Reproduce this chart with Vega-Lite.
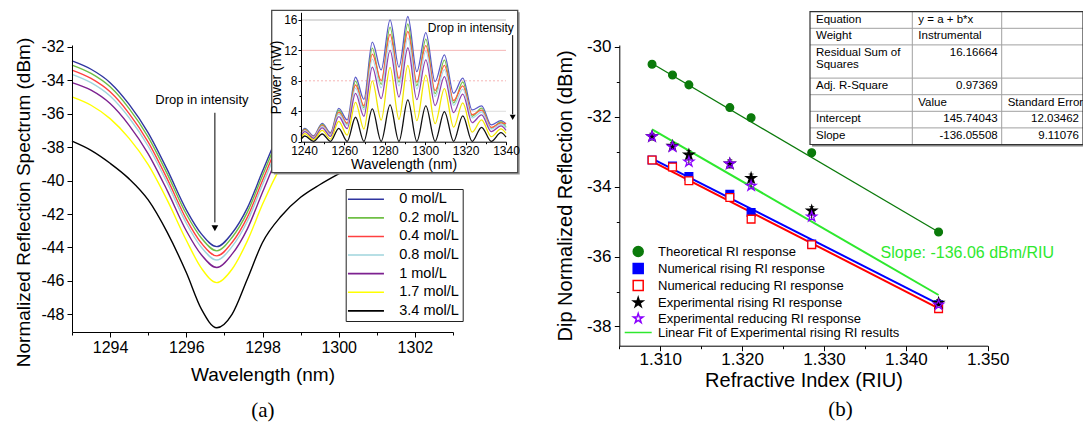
{
"$schema":"https://vega.github.io/schema/vega-lite/v6.json",
"width":1083,"height":424,"padding":0,"autosize":"none","background":"white",
"config":{"view":{"stroke":null},"font":"Liberation Sans",
 "axis":{"domainColor":"black","tickColor":"black","labelColor":"black","titleColor":"black","labelFont":"Liberation Sans","titleFont":"Liberation Sans","titleFontWeight":"normal","grid":false,"labelFlush":false,"labelOverlap":false,"labelBound":false,"domainWidth":1,"tickWidth":1},
 "text":{"font":"Liberation Sans","color":"black"}},
"datasets":{
"mc":[
{"c":"0 mol/L","w":1293,"v":-32.85},{"c":"0 mol/L","w":1293.5,"v":-33.35},{"c":"0 mol/L","w":1294,"v":-34.15},{"c":"0 mol/L","w":1294.5,"v":-35.45},{"c":"0 mol/L","w":1295,"v":-37.15},{"c":"0 mol/L","w":1295.5,"v":-39.35},{"c":"0 mol/L","w":1296,"v":-41.75},{"c":"0 mol/L","w":1296.4,"v":-43.2},{"c":"0 mol/L","w":1296.8,"v":-43.95},{"c":"0 mol/L","w":1297.2,"v":-43.15},{"c":"0 mol/L","w":1297.6,"v":-41.65},{"c":"0 mol/L","w":1298,"v":-39.45},{"c":"0 mol/L","w":1298.5,"v":-36.75},{"c":"0 mol/L","w":1299,"v":-34.35},
{"c":"0.2 mol/L","w":1293,"v":-33.1},{"c":"0.2 mol/L","w":1293.5,"v":-33.6},{"c":"0.2 mol/L","w":1294,"v":-34.4},{"c":"0.2 mol/L","w":1294.5,"v":-35.7},{"c":"0.2 mol/L","w":1295,"v":-37.4},{"c":"0.2 mol/L","w":1295.5,"v":-39.6},{"c":"0.2 mol/L","w":1296,"v":-42.0},{"c":"0.2 mol/L","w":1296.4,"v":-43.45},{"c":"0.2 mol/L","w":1296.8,"v":-44.2},{"c":"0.2 mol/L","w":1297.2,"v":-43.4},{"c":"0.2 mol/L","w":1297.6,"v":-41.9},{"c":"0.2 mol/L","w":1298,"v":-39.7},{"c":"0.2 mol/L","w":1298.5,"v":-37.0},{"c":"0.2 mol/L","w":1299,"v":-34.6},
{"c":"0.4 mol/L","w":1293,"v":-33.4},{"c":"0.4 mol/L","w":1293.5,"v":-33.9},{"c":"0.4 mol/L","w":1294,"v":-34.7},{"c":"0.4 mol/L","w":1294.5,"v":-36.0},{"c":"0.4 mol/L","w":1295,"v":-37.7},{"c":"0.4 mol/L","w":1295.5,"v":-39.9},{"c":"0.4 mol/L","w":1296,"v":-42.3},{"c":"0.4 mol/L","w":1296.4,"v":-43.75},{"c":"0.4 mol/L","w":1296.8,"v":-44.5},{"c":"0.4 mol/L","w":1297.2,"v":-43.7},{"c":"0.4 mol/L","w":1297.6,"v":-42.2},{"c":"0.4 mol/L","w":1298,"v":-40.0},{"c":"0.4 mol/L","w":1298.5,"v":-37.3},{"c":"0.4 mol/L","w":1299,"v":-34.9},
{"c":"0.8 mol/L","w":1293,"v":-33.65},{"c":"0.8 mol/L","w":1293.5,"v":-34.15},{"c":"0.8 mol/L","w":1294,"v":-34.95},{"c":"0.8 mol/L","w":1294.5,"v":-36.25},{"c":"0.8 mol/L","w":1295,"v":-37.95},{"c":"0.8 mol/L","w":1295.5,"v":-40.15},{"c":"0.8 mol/L","w":1296,"v":-42.55},{"c":"0.8 mol/L","w":1296.4,"v":-44.0},{"c":"0.8 mol/L","w":1296.8,"v":-44.75},{"c":"0.8 mol/L","w":1297.2,"v":-43.95},{"c":"0.8 mol/L","w":1297.6,"v":-42.45},{"c":"0.8 mol/L","w":1298,"v":-40.25},{"c":"0.8 mol/L","w":1298.5,"v":-37.55},{"c":"0.8 mol/L","w":1299,"v":-35.15},
{"c":"1 mol/L","w":1293,"v":-34.15},{"c":"1 mol/L","w":1293.5,"v":-34.6},{"c":"1 mol/L","w":1294,"v":-35.4},{"c":"1 mol/L","w":1294.5,"v":-36.7},{"c":"1 mol/L","w":1295,"v":-38.4},{"c":"1 mol/L","w":1295.5,"v":-40.6},{"c":"1 mol/L","w":1296,"v":-43.0},{"c":"1 mol/L","w":1296.4,"v":-44.45},{"c":"1 mol/L","w":1296.8,"v":-45.2},{"c":"1 mol/L","w":1297.2,"v":-44.4},{"c":"1 mol/L","w":1297.6,"v":-42.9},{"c":"1 mol/L","w":1298,"v":-40.7},{"c":"1 mol/L","w":1298.5,"v":-38.0},{"c":"1 mol/L","w":1299,"v":-35.6},
{"c":"1.7 mol/L","w":1293,"v":-35.0},{"c":"1.7 mol/L","w":1293.5,"v":-35.5},{"c":"1.7 mol/L","w":1294,"v":-36.3},{"c":"1.7 mol/L","w":1294.5,"v":-37.48},{"c":"1.7 mol/L","w":1295,"v":-39.05},{"c":"1.7 mol/L","w":1295.5,"v":-41.17},{"c":"1.7 mol/L","w":1296,"v":-43.57},{"c":"1.7 mol/L","w":1296.4,"v":-45.25},{"c":"1.7 mol/L","w":1296.8,"v":-46.1},{"c":"1.7 mol/L","w":1297.2,"v":-45.3},{"c":"1.7 mol/L","w":1297.6,"v":-43.62},{"c":"1.7 mol/L","w":1298,"v":-41.42},{"c":"1.7 mol/L","w":1298.5,"v":-39.05},{"c":"1.7 mol/L","w":1299,"v":-37.04},{"c":"1.7 mol/L","w":1299.5,"v":-35.3},
{"c":"3.4 mol/L","w":1293,"v":-37.65},{"c":"3.4 mol/L","w":1293.5,"v":-38.2},{"c":"3.4 mol/L","w":1294,"v":-38.97},{"c":"3.4 mol/L","w":1294.5,"v":-39.9},{"c":"3.4 mol/L","w":1295,"v":-41.16},{"c":"3.4 mol/L","w":1295.5,"v":-43.1},{"c":"3.4 mol/L","w":1296,"v":-45.5},{"c":"3.4 mol/L","w":1296.4,"v":-47.7},{"c":"3.4 mol/L","w":1296.8,"v":-48.8},{"c":"3.4 mol/L","w":1297.2,"v":-48.0},{"c":"3.4 mol/L","w":1297.6,"v":-45.9},{"c":"3.4 mol/L","w":1298,"v":-43.7},{"c":"3.4 mol/L","w":1298.5,"v":-42.1},{"c":"3.4 mol/L","w":1299,"v":-41.0},{"c":"3.4 mol/L","w":1299.5,"v":-40.25},{"c":"3.4 mol/L","w":1300,"v":-39.6},{"c":"3.4 mol/L","w":1300.5,"v":-39.0}
],
"ins":[
{"c":"0 mol/L","w":1238.5,"p":1.1},{"c":"0 mol/L","w":1240.4,"p":1.76},{"c":"0 mol/L","w":1244.7,"p":0.75},{"c":"0 mol/L","w":1249,"p":2.42},{"c":"0 mol/L","w":1253.1,"p":1.18},{"c":"0 mol/L","w":1257.2,"p":4.39},{"c":"0 mol/L","w":1261.35,"p":2.86},{"c":"0 mol/L","w":1265.5,"p":8.47},{"c":"0 mol/L","w":1269.65,"p":5.57},{"c":"0 mol/L","w":1273.8,"p":13.08},{"c":"0 mol/L","w":1278.2,"p":9.43},{"c":"0 mol/L","w":1282.6,"p":16.01},{"c":"0 mol/L","w":1287,"p":9.79},{"c":"0 mol/L","w":1291.4,"p":16.45},{"c":"0 mol/L","w":1295.85,"p":9.2},{"c":"0 mol/L","w":1300.3,"p":14.34},{"c":"0 mol/L","w":1304.9,"p":7.9},{"c":"0 mol/L","w":1309.5,"p":11.41},{"c":"0 mol/L","w":1314.05,"p":6.37},{"c":"0 mol/L","w":1318.6,"p":8.34},{"c":"0 mol/L","w":1323.25,"p":4.17},{"c":"0 mol/L","w":1327.9,"p":4.7},{"c":"0 mol/L","w":1332.7,"p":2.2},{"c":"0 mol/L","w":1337.5,"p":2.76},{"c":"0 mol/L","w":1340,"p":2.3},
{"c":"0.2 mol/L","w":1238.5,"p":0.9},{"c":"0.2 mol/L","w":1240.4,"p":1.65},{"c":"0.2 mol/L","w":1244.7,"p":0.6},{"c":"0.2 mol/L","w":1249,"p":2.27},{"c":"0.2 mol/L","w":1253.1,"p":0.94},{"c":"0.2 mol/L","w":1257.2,"p":4.13},{"c":"0.2 mol/L","w":1261.35,"p":2.29},{"c":"0.2 mol/L","w":1265.5,"p":7.96},{"c":"0.2 mol/L","w":1269.65,"p":4.46},{"c":"0.2 mol/L","w":1273.8,"p":12.3},{"c":"0.2 mol/L","w":1278.2,"p":7.54},{"c":"0.2 mol/L","w":1282.6,"p":15.05},{"c":"0.2 mol/L","w":1287,"p":7.83},{"c":"0.2 mol/L","w":1291.4,"p":15.46},{"c":"0.2 mol/L","w":1295.85,"p":7.36},{"c":"0.2 mol/L","w":1300.3,"p":13.48},{"c":"0.2 mol/L","w":1304.9,"p":6.32},{"c":"0.2 mol/L","w":1309.5,"p":10.73},{"c":"0.2 mol/L","w":1314.05,"p":5.1},{"c":"0.2 mol/L","w":1318.6,"p":7.84},{"c":"0.2 mol/L","w":1323.25,"p":3.34},{"c":"0.2 mol/L","w":1327.9,"p":4.42},{"c":"0.2 mol/L","w":1332.7,"p":1.76},{"c":"0.2 mol/L","w":1337.5,"p":2.59},{"c":"0.2 mol/L","w":1340,"p":1.9},
{"c":"0.4 mol/L","w":1238.5,"p":0.95},{"c":"0.4 mol/L","w":1240.4,"p":1.55},{"c":"0.4 mol/L","w":1244.7,"p":0.64},{"c":"0.4 mol/L","w":1249,"p":2.13},{"c":"0.4 mol/L","w":1253.1,"p":1.0},{"c":"0.4 mol/L","w":1257.2,"p":3.86},{"c":"0.4 mol/L","w":1261.35,"p":2.43},{"c":"0.4 mol/L","w":1265.5,"p":7.45},{"c":"0.4 mol/L","w":1269.65,"p":4.73},{"c":"0.4 mol/L","w":1273.8,"p":11.51},{"c":"0.4 mol/L","w":1278.2,"p":8.02},{"c":"0.4 mol/L","w":1282.6,"p":14.09},{"c":"0.4 mol/L","w":1287,"p":8.32},{"c":"0.4 mol/L","w":1291.4,"p":14.48},{"c":"0.4 mol/L","w":1295.85,"p":7.82},{"c":"0.4 mol/L","w":1300.3,"p":12.62},{"c":"0.4 mol/L","w":1304.9,"p":6.72},{"c":"0.4 mol/L","w":1309.5,"p":10.04},{"c":"0.4 mol/L","w":1314.05,"p":5.41},{"c":"0.4 mol/L","w":1318.6,"p":7.34},{"c":"0.4 mol/L","w":1323.25,"p":3.54},{"c":"0.4 mol/L","w":1327.9,"p":4.14},{"c":"0.4 mol/L","w":1332.7,"p":1.87},{"c":"0.4 mol/L","w":1337.5,"p":2.43},{"c":"0.4 mol/L","w":1340,"p":2.4},
{"c":"0.8 mol/L","w":1238.5,"p":0.8},{"c":"0.8 mol/L","w":1240.4,"p":1.46},{"c":"0.8 mol/L","w":1244.7,"p":0.56},{"c":"0.8 mol/L","w":1249,"p":2.01},{"c":"0.8 mol/L","w":1253.1,"p":0.89},{"c":"0.8 mol/L","w":1257.2,"p":3.64},{"c":"0.8 mol/L","w":1261.35,"p":2.15},{"c":"0.8 mol/L","w":1265.5,"p":7.03},{"c":"0.8 mol/L","w":1269.65,"p":4.18},{"c":"0.8 mol/L","w":1273.8,"p":10.86},{"c":"0.8 mol/L","w":1278.2,"p":7.07},{"c":"0.8 mol/L","w":1282.6,"p":13.29},{"c":"0.8 mol/L","w":1287,"p":7.34},{"c":"0.8 mol/L","w":1291.4,"p":13.65},{"c":"0.8 mol/L","w":1295.85,"p":6.9},{"c":"0.8 mol/L","w":1300.3,"p":11.9},{"c":"0.8 mol/L","w":1304.9,"p":5.93},{"c":"0.8 mol/L","w":1309.5,"p":9.47},{"c":"0.8 mol/L","w":1314.05,"p":4.78},{"c":"0.8 mol/L","w":1318.6,"p":6.92},{"c":"0.8 mol/L","w":1323.25,"p":3.13},{"c":"0.8 mol/L","w":1327.9,"p":3.9},{"c":"0.8 mol/L","w":1332.7,"p":1.65},{"c":"0.8 mol/L","w":1337.5,"p":2.29},{"c":"0.8 mol/L","w":1340,"p":1.8},
{"c":"1 mol/L","w":1238.5,"p":0.7},{"c":"1 mol/L","w":1240.4,"p":1.32},{"c":"1 mol/L","w":1244.7,"p":0.45},{"c":"1 mol/L","w":1249,"p":1.82},{"c":"1 mol/L","w":1253.1,"p":0.71},{"c":"1 mol/L","w":1257.2,"p":3.29},{"c":"1 mol/L","w":1261.35,"p":1.72},{"c":"1 mol/L","w":1265.5,"p":6.35},{"c":"1 mol/L","w":1269.65,"p":3.34},{"c":"1 mol/L","w":1273.8,"p":9.81},{"c":"1 mol/L","w":1278.2,"p":5.66},{"c":"1 mol/L","w":1282.6,"p":12.01},{"c":"1 mol/L","w":1287,"p":5.87},{"c":"1 mol/L","w":1291.4,"p":12.34},{"c":"1 mol/L","w":1295.85,"p":5.52},{"c":"1 mol/L","w":1300.3,"p":10.76},{"c":"1 mol/L","w":1304.9,"p":4.74},{"c":"1 mol/L","w":1309.5,"p":8.56},{"c":"1 mol/L","w":1314.05,"p":3.82},{"c":"1 mol/L","w":1318.6,"p":6.26},{"c":"1 mol/L","w":1323.25,"p":2.5},{"c":"1 mol/L","w":1327.9,"p":3.53},{"c":"1 mol/L","w":1332.7,"p":1.32},{"c":"1 mol/L","w":1337.5,"p":2.07},{"c":"1 mol/L","w":1340,"p":1.5},
{"c":"1.7 mol/L","w":1238.5,"p":0.5},{"c":"1.7 mol/L","w":1240.4,"p":1.07},{"c":"1.7 mol/L","w":1244.7,"p":0.23},{"c":"1.7 mol/L","w":1249,"p":1.48},{"c":"1.7 mol/L","w":1253.1,"p":0.35},{"c":"1.7 mol/L","w":1257.2,"p":2.68},{"c":"1.7 mol/L","w":1261.35,"p":0.86},{"c":"1.7 mol/L","w":1265.5,"p":5.17},{"c":"1.7 mol/L","w":1269.65,"p":1.67},{"c":"1.7 mol/L","w":1273.8,"p":7.98},{"c":"1.7 mol/L","w":1278.2,"p":2.83},{"c":"1.7 mol/L","w":1282.6,"p":9.77},{"c":"1.7 mol/L","w":1287,"p":2.94},{"c":"1.7 mol/L","w":1291.4,"p":10.03},{"c":"1.7 mol/L","w":1295.85,"p":2.76},{"c":"1.7 mol/L","w":1300.3,"p":8.75},{"c":"1.7 mol/L","w":1304.9,"p":2.37},{"c":"1.7 mol/L","w":1309.5,"p":6.96},{"c":"1.7 mol/L","w":1314.05,"p":1.91},{"c":"1.7 mol/L","w":1318.6,"p":5.09},{"c":"1.7 mol/L","w":1323.25,"p":1.25},{"c":"1.7 mol/L","w":1327.9,"p":2.87},{"c":"1.7 mol/L","w":1332.7,"p":0.66},{"c":"1.7 mol/L","w":1337.5,"p":1.68},{"c":"1.7 mol/L","w":1340,"p":1.1},
{"c":"3.4 mol/L","w":1238.5,"p":0.3},{"c":"3.4 mol/L","w":1240.4,"p":0.75},{"c":"3.4 mol/L","w":1244.7,"p":0.05},{"c":"3.4 mol/L","w":1249,"p":1.01},{"c":"3.4 mol/L","w":1253.1,"p":0.05},{"c":"3.4 mol/L","w":1257.2,"p":1.76},{"c":"3.4 mol/L","w":1261.35,"p":0.05},{"c":"3.4 mol/L","w":1265.5,"p":3.21},{"c":"3.4 mol/L","w":1269.65,"p":0.05},{"c":"3.4 mol/L","w":1273.8,"p":4.3},{"c":"3.4 mol/L","w":1278.2,"p":0.05},{"c":"3.4 mol/L","w":1282.6,"p":4.83},{"c":"3.4 mol/L","w":1287,"p":0.05},{"c":"3.4 mol/L","w":1291.4,"p":5.49},{"c":"3.4 mol/L","w":1295.85,"p":0.05},{"c":"3.4 mol/L","w":1300.3,"p":4.7},{"c":"3.4 mol/L","w":1304.9,"p":0.05},{"c":"3.4 mol/L","w":1309.5,"p":3.95},{"c":"3.4 mol/L","w":1314.05,"p":0.05},{"c":"3.4 mol/L","w":1318.6,"p":3.38},{"c":"3.4 mol/L","w":1323.25,"p":0.05},{"c":"3.4 mol/L","w":1327.9,"p":1.89},{"c":"3.4 mol/L","w":1332.7,"p":0.05},{"c":"3.4 mol/L","w":1337.5,"p":1.18},{"c":"3.4 mol/L","w":1340,"p":0.6}
],
"rp":[
{"s":"Theoretical RI response","x":1.309,"v":-30.5},{"s":"Theoretical RI response","x":1.3115,"v":-30.81},{"s":"Theoretical RI response","x":1.3135,"v":-31.09},{"s":"Theoretical RI response","x":1.3185,"v":-31.74},{"s":"Theoretical RI response","x":1.3211,"v":-32.03},{"s":"Theoretical RI response","x":1.3285,"v":-33.03},{"s":"Theoretical RI response","x":1.344,"v":-35.3},
{"s":"Numerical rising RI response","x":1.309,"v":-33.24},{"s":"Numerical rising RI response","x":1.3115,"v":-33.41},{"s":"Numerical rising RI response","x":1.3135,"v":-33.71},{"s":"Numerical rising RI response","x":1.3185,"v":-34.22},{"s":"Numerical rising RI response","x":1.3211,"v":-34.74},{"s":"Numerical rising RI response","x":1.3285,"v":-35.64},{"s":"Numerical rising RI response","x":1.344,"v":-37.38},
{"s":"Numerical reducing RI response","x":1.309,"v":-33.24},{"s":"Numerical reducing RI response","x":1.3115,"v":-33.44},{"s":"Numerical reducing RI response","x":1.3135,"v":-33.83},{"s":"Numerical reducing RI response","x":1.3185,"v":-34.31},{"s":"Numerical reducing RI response","x":1.3211,"v":-34.93},{"s":"Numerical reducing RI response","x":1.3285,"v":-35.66},{"s":"Numerical reducing RI response","x":1.344,"v":-37.49},
{"s":"Experimental rising RI response","x":1.309,"v":-32.57,"e":0.1},{"s":"Experimental rising RI response","x":1.3115,"v":-32.84,"e":0.1},{"s":"Experimental rising RI response","x":1.3135,"v":-33.09,"e":0.12},{"s":"Experimental rising RI response","x":1.3185,"v":-33.35,"e":0.08},{"s":"Experimental rising RI response","x":1.3211,"v":-33.76,"e":0.12},{"s":"Experimental rising RI response","x":1.3285,"v":-34.69,"e":0.12},{"s":"Experimental rising RI response","x":1.344,"v":-37.33,"e":0.1},
{"s":"Experimental reducing RI response","x":1.309,"v":-32.57,"e":0.08},{"s":"Experimental reducing RI response","x":1.3115,"v":-32.86,"e":0.08},{"s":"Experimental reducing RI response","x":1.3135,"v":-33.29,"e":0.08},{"s":"Experimental reducing RI response","x":1.3185,"v":-33.35,"e":0.12},{"s":"Experimental reducing RI response","x":1.3211,"v":-33.98,"e":0.08},{"s":"Experimental reducing RI response","x":1.3285,"v":-34.86,"e":0.08},{"s":"Experimental reducing RI response","x":1.344,"v":-37.38,"e":0.08}
],
"rf":[
{"s":"Theoretical RI response","x":1.309,"v":-30.48},{"s":"Theoretical RI response","x":1.344,"v":-35.3},
{"s":"Numerical rising RI response","x":1.309,"v":-33.2},{"s":"Numerical rising RI response","x":1.344,"v":-37.36},
{"s":"Numerical reducing RI response","x":1.309,"v":-33.28},{"s":"Numerical reducing RI response","x":1.344,"v":-37.48},
{"s":"Linear Fit of Experimental rising RI results","x":1.309,"v":-32.36},{"s":"Linear Fit of Experimental rising RI results","x":1.344,"v":-37.1}
],
"th":[{"b":1},{"b":2},{"b":3},{"b":4},{"b":5},{"b":6}],
"tv":[{"b":1},{"b":2}],
"tt":[
{"t":"Equation","c":0,"r":0,"n":false},{"t":"Weight","c":0,"r":1,"n":false},{"t":"Residual Sum of\nSquares","c":0,"r":2,"n":false},{"t":"Adj. R-Square","c":0,"r":3,"n":false},{"t":"Intercept","c":0,"r":5,"n":false},{"t":"Slope","c":0,"r":6,"n":false},
{"t":"y = a + b*x","c":1,"r":0,"n":false},{"t":"Instrumental","c":1,"r":1,"n":false},{"t":"Value","c":1,"r":4,"n":false},{"t":"Standard Error","c":2,"r":4,"n":false},
{"t":"16.16664","c":2,"r":2,"n":true},{"t":"0.97369","c":2,"r":3,"n":true},{"t":"145.74043","c":2,"r":5,"n":true},{"t":"-136.05508","c":2,"r":6,"n":true},{"t":"12.03462","c":3,"r":5,"n":true},{"t":"9.11076","c":3,"r":6,"n":true}
]
},
"layer":[
{"layer":[
 {"data":{"name":"mc"},"mark":{"type":"line","interpolate":"monotone","strokeWidth":1.4},
  "encoding":{
   "x":{"field":"w","type":"quantitative","scale":{"domain":[1293,1303],"range":[72,453],"nice":false,"zero":false},
     "axis":{"orient":"bottom","offset":-92,"zindex":1,"labelOverlap":false,"values":[1293,1294,1295,1296,1297,1298,1299,1300,1301,1302,1303],"labelExpr":"datum.value % 2 == 0 ? '' + datum.value : ''","tickSize":{"condition":{"test":"datum.value % 2 == 0","value":5},"value":3},"title":"Wavelength (nm)","titleFontSize":19,"labelFontSize":16,"labelPadding":2,"titlePadding":10}},
   "y":{"field":"v","type":"quantitative","scale":{"domain":[-49.05,-31.9],"range":[332,45],"nice":false,"zero":false},
     "axis":{"orient":"left","offset":-72,"zindex":1,"labelOverlap":false,"values":[-48,-47,-46,-45,-44,-43,-42,-41,-40,-39,-38,-37,-36,-35,-34,-33,-32],"labelExpr":"datum.value % 2 == 0 ? '' + datum.value : ''","tickSize":{"condition":{"test":"datum.value % 2 == 0","value":5},"value":3},"title":"Normalized Reflection Spectrum (dBm)","titleFontSize":19,"labelFontSize":16,"labelPadding":3,"titlePadding":7,"titleY":202}},
   "color":{"field":"c","type":"nominal","scale":{"domain":["0 mol/L","0.2 mol/L","0.4 mol/L","0.8 mol/L","1 mol/L","1.7 mol/L","3.4 mol/L"],"range":["#2f35a0","#6fbf45","#ff4040","#9fd4dd","#7d2190","#ffff00","#000000"]},
     "legend":{"orient":"none","legendX":345.7,"legendY":189,"title":null,"strokeColor":"#222222","fillColor":"white","padding":3,"symbolType":"M-3,0L3,0","symbolSize":144,"symbolStrokeWidth":1.6,"symbolOffset":10,"labelOffset":26,"labelFontSize":14.5,"labelFont":"Liberation Sans","labelColor":"black","rowPadding":3.6}}
  }},
 {"data":{"values":[{}]},"mark":{"type":"text","text":"Drop in intensity","fontSize":13,"align":"center","baseline":"middle"},"encoding":{"x":{"datum":1296.41},"y":{"datum":-35.2}}},
 {"data":{"values":[{}]},"mark":{"type":"rule","color":"black","strokeWidth":1},"encoding":{"x":{"datum":1296.75},"y":{"datum":-35.95},"y2":{"datum":-42.5}}},
 {"data":{"values":[{}]},"mark":{"type":"point","shape":"triangle-down","filled":true,"color":"black","size":45,"opacity":1},"encoding":{"x":{"datum":1296.75},"y":{"datum":-42.85}}},
 {"data":{"values":[{}]},"mark":{"type":"text","text":"(a)","font":"Liberation Serif","fontSize":21,"align":"center","baseline":"middle"},"encoding":{"x":{"datum":1298.01},"y":{"datum":-53.78}}}
]},
{"layer":[
 {"data":{"values":[{}]},"mark":{"type":"rect","fill":"#9a9a9a"},"encoding":{"x":{"datum":1225},"x2":{"datum":1346.8},"y":{"datum":17.0},"y2":{"datum":-4.3}}},
 {"data":{"values":[{}]},"mark":{"type":"rect","fill":"white","stroke":"#4a4a4a","strokeWidth":1.3},"encoding":{"x":{"datum":1224},"x2":{"datum":1345.8},"y":{"datum":17.26},"y2":{"datum":-4.05}}},
 {"data":{"values":[{}]},"mark":{"type":"rule","color":"#dcdcdc","strokeWidth":2},"encoding":{"y":{"datum":16},"x":{"datum":1238.5},"x2":{"datum":1340}}},
 {"data":{"values":[{}]},"mark":{"type":"rule","color":"#f5b5b5","strokeWidth":1},"encoding":{"y":{"datum":12},"x":{"datum":1238.5},"x2":{"datum":1340}}},
 {"data":{"values":[{}]},"mark":{"type":"rule","color":"#f5b5b5","strokeWidth":1,"strokeDash":[2,2]},"encoding":{"y":{"datum":8},"x":{"datum":1238.5},"x2":{"datum":1340}}},
 {"data":{"values":[{}]},"mark":{"type":"rule","color":"#dcdcdc","strokeWidth":1},"encoding":{"y":{"datum":4},"x":{"datum":1238.5},"x2":{"datum":1340}}},
 {"data":{"name":"ins"},"mark":{"type":"line","interpolate":"monotone","strokeWidth":1.3},
  "encoding":{
   "x":{"field":"w","type":"quantitative","scale":{"domain":[1238.5,1340],"range":[301,506],"nice":false,"zero":false},
     "axis":{"orient":"bottom","offset":-282.3,"zindex":1,"labelOverlap":false,"values":[1240,1250,1260,1270,1280,1290,1300,1310,1320,1330,1340],"labelExpr":"datum.value % 20 == 0 ? '' + datum.value : ''","tickSize":{"condition":{"test":"datum.value % 20 == 0","value":3},"value":2},"title":"Wavelength (nm)","titleFontSize":14,"labelFontSize":12,"labelPadding":1,"titlePadding":1}},
   "y":{"field":"p","type":"quantitative","scale":{"domain":[0,17],"range":[141.7,12.3],"nice":false,"zero":false},
     "axis":{"orient":"left","offset":-301,"zindex":1,"labelOverlap":false,"values":[0,2,4,6,8,10,12,14,16],"labelExpr":"datum.value % 4 == 0 ? '' + datum.value : ''","labelOffset":{"condition":{"test":"datum.value == 0","value":-3},"value":0},"tickSize":{"condition":{"test":"datum.value % 4 == 0","value":3},"value":2},"title":"Power (nW)","titleFontSize":14,"labelFontSize":12,"labelPadding":1,"titlePadding":0}},
   "color":{"field":"c","type":"nominal","scale":{"domain":["0 mol/L","0.2 mol/L","0.4 mol/L","0.8 mol/L","1 mol/L","1.7 mol/L","3.4 mol/L"],"range":["#5b5bc8","#7ac24c","#ff5a3c","#a9dcea","#8e3fae","#f2e600","#111111"]},"legend":null}
  }},
 {"data":{"values":[{}]},"mark":{"type":"rule","color":"black","strokeWidth":1},"encoding":{"x":{"datum":1343.3},"y":{"datum":14.0},"y2":{"datum":3.6}}},
 {"data":{"values":[{}]},"mark":{"type":"point","shape":"triangle-down","filled":true,"color":"black","size":35,"opacity":1},"encoding":{"x":{"datum":1343.3},"y":{"datum":3.2}}},
 {"data":{"values":[{}]},"mark":{"type":"text","text":"Drop in intensity","fontSize":12,"align":"right","baseline":"middle"},"encoding":{"x":{"datum":1343.9},"y":{"datum":14.92}}}
]},
{"layer":[
 {"data":{"name":"rf"},"transform":[{"filter":"datum.s == 'Theoretical RI response'"}],"mark":{"type":"line","strokeWidth":1.3},
  "encoding":{
   "x":{"field":"x","type":"quantitative","scale":{"domain":[1.305,1.35],"range":[619.3,987.7],"nice":false,"zero":false},
     "axis":{"orient":"bottom","offset":-78.3,"zindex":1,"labelOverlap":false,"values":[1.305,1.31,1.315,1.32,1.325,1.33,1.335,1.34,1.345,1.35],"labelExpr":"round(datum.value*1000) % 10 == 0 ? format(datum.value, '.3f') : ''","tickSize":{"condition":{"test":"round(datum.value*1000) % 10 == 0","value":5},"value":3},"title":"Refractive Index (RIU)","titleFontSize":20,"labelFontSize":17,"labelPadding":0.5,"titlePadding":3}},
   "y":{"field":"v","type":"quantitative","scale":{"domain":[-38.55,-29.95],"range":[345.7,45],"nice":false,"zero":false},
     "axis":{"orient":"left","offset":-619.3,"zindex":1,"labelOverlap":false,"values":[-38,-37,-36,-35,-34,-33,-32,-31,-30],"labelExpr":"datum.value % 2 == 0 ? '' + datum.value : ''","tickSize":{"condition":{"test":"datum.value % 2 == 0","value":5},"value":3},"title":"Dip Normalized Reflection (dBm)","titleFontSize":20,"labelFontSize":17,"labelPadding":3.3,"titlePadding":11}},
   "stroke":{"field":"s","type":"nominal","scale":{"domain":["Theoretical RI response","Numerical rising RI response","Numerical reducing RI response","Experimental rising RI response","Experimental reducing RI response","Linear Fit of Experimental rising RI results"],"range":["#0b7a0b","#0000ff","#ff0000","#000000","#8b00ff","#2ee82e"]},
     "legend":{"orient":"none","legendX":631.7,"legendY":245,"title":null,"padding":0,"symbolSize":100,"symbolStrokeWidth":1.5,"labelOffset":13.3,"labelFontSize":13,"labelFont":"Liberation Sans","labelColor":"black","rowPadding":0,"labelLimit":400}}
  }},
 {"data":{"name":"rf"},"transform":[{"filter":"datum.s != 'Theoretical RI response'"}],"mark":{"type":"line","strokeWidth":2},
  "encoding":{"x":{"field":"x","type":"quantitative"},"y":{"field":"v","type":"quantitative"},"stroke":{"field":"s","type":"nominal"}}},
 {"data":{"name":"rp"},"transform":[{"filter":"datum.e > 0"}],"mark":{"type":"errorbar","ticks":true,"color":"black"},
  "encoding":{"x":{"field":"x","type":"quantitative","title":"Refractive Index (RIU)"},"y":{"field":"v","type":"quantitative","title":"Dip Normalized Reflection (dBm)"},"yError":{"field":"e"}}},
 {"data":{"name":"rp"},"transform":[{"filter":"indexof(datum.s, 'Experimental') < 0"}],"mark":{"type":"point","size":60,"strokeWidth":1.3,"opacity":1,"fillOpacity":1},
  "encoding":{"x":{"field":"x","type":"quantitative"},"y":{"field":"v","type":"quantitative"},
   "fill":{"field":"s","type":"nominal","scale":{"domain":["Theoretical RI response","Numerical rising RI response","Numerical reducing RI response","Experimental rising RI response","Experimental reducing RI response","Linear Fit of Experimental rising RI results"],"range":["#0b7a0b","#0000ff","#ffffff","#000000","transparent","transparent"]}},
   "stroke":{"field":"s","type":"nominal"},
   "shape":{"field":"s","type":"nominal","scale":{"domain":["Theoretical RI response","Numerical rising RI response","Numerical reducing RI response","Experimental rising RI response","Experimental reducing RI response","Linear Fit of Experimental rising RI results"],"range":["circle","square","square","M0,-1L0.2245,-0.309L0.951,-0.309L0.363,0.118L0.588,0.809L0,0.382L-0.588,0.809L-0.363,0.118L-0.951,-0.309L-0.2245,-0.309Z","M0,-1L0.2245,-0.309L0.951,-0.309L0.363,0.118L0.588,0.809L0,0.382L-0.588,0.809L-0.363,0.118L-0.951,-0.309L-0.2245,-0.309Z","M-2.7,0L2.7,0"]}}}},
 {"data":{"name":"rp"},"transform":[{"filter":"indexof(datum.s, 'Experimental') >= 0"}],"mark":{"type":"point","size":110,"strokeWidth":1.3,"opacity":1,"fillOpacity":1},
  "encoding":{"x":{"field":"x","type":"quantitative"},"y":{"field":"v","type":"quantitative"},
   "fill":{"field":"s","type":"nominal"},"stroke":{"field":"s","type":"nominal"},"shape":{"field":"s","type":"nominal"}}},
 {"data":{"values":[{}]},"mark":{"type":"text","text":"Slope: -136.06 dBm/RIU","color":"#2ee82e","fontSize":16,"align":"left","baseline":"middle"},"encoding":{"x":{"datum":1.33692},"y":{"datum":-35.89}}},
 {"data":{"values":[{}]},"mark":{"type":"text","text":"(b)","font":"Liberation Serif","fontSize":21,"align":"center","baseline":"middle"},"encoding":{"x":{"datum":1.33203},"y":{"datum":-40.38}}}
]},
{"layer":[
 {"data":{"values":[{}]},"mark":{"type":"rect","fill":"#808080"},"encoding":{"x":{"datum":0.02,"scale":{"domain":[0,1,2,3],"range":[810,912.3,1001.7,1083],"nice":false,"zero":false},"axis":null},"x2":{"datum":3.1},"y":{"datum":0.12,"scale":{"domain":[0,1,2,3,4,5,6,7],"range":[11.7,28.3,44.9,78.1,94.7,111.3,127.9,144.5],"nice":false,"zero":false},"axis":null},"y2":{"datum":7.12}}},
 {"data":{"values":[{}]},"mark":{"type":"rect","fill":"white"},"encoding":{"x":{"datum":0,"axis":null},"x2":{"datum":3},"y":{"datum":0,"axis":null},"y2":{"datum":7}}},
 {"data":{"name":"th"},"mark":{"type":"rule","color":"#a0a0a0","strokeWidth":1},"encoding":{"y":{"field":"b","type":"quantitative","axis":null},"x":{"datum":0,"axis":null},"x2":{"datum":3}}},
 {"data":{"name":"tv"},"mark":{"type":"rule","color":"#a0a0a0","strokeWidth":1},"encoding":{"x":{"field":"b","type":"quantitative","axis":null},"y":{"datum":0,"axis":null},"y2":{"datum":7}}},
 {"data":{"values":[{}]},"mark":{"type":"rect","fill":"transparent","stroke":"#333333","strokeWidth":1.2},"encoding":{"x":{"datum":0,"axis":null},"x2":{"datum":3},"y":{"datum":0,"axis":null},"y2":{"datum":7}}},
 {"data":{"name":"tt"},"transform":[{"filter":"!datum.n"}],"mark":{"type":"text","align":"left","baseline":"top","dx":6,"dy":2,"fontSize":11.5,"lineBreak":"\n","lineHeight":12.5},"encoding":{"x":{"field":"c","type":"quantitative","axis":null},"y":{"field":"r","type":"quantitative","axis":null},"text":{"field":"t"}}},
 {"data":{"name":"tt"},"transform":[{"filter":"datum.n"}],"mark":{"type":"text","align":"right","baseline":"top","dx":-4,"dy":2,"fontSize":11.5},"encoding":{"x":{"field":"c","type":"quantitative","axis":null},"y":{"field":"r","type":"quantitative","axis":null},"text":{"field":"t"}}}
]}
],
"resolve":{"scale":{"x":"independent","y":"independent","color":"independent","fill":"independent","stroke":"independent","shape":"independent"},"axis":{"x":"independent","y":"independent"},"legend":{"color":"independent","fill":"independent","stroke":"independent","shape":"independent"}}
}
